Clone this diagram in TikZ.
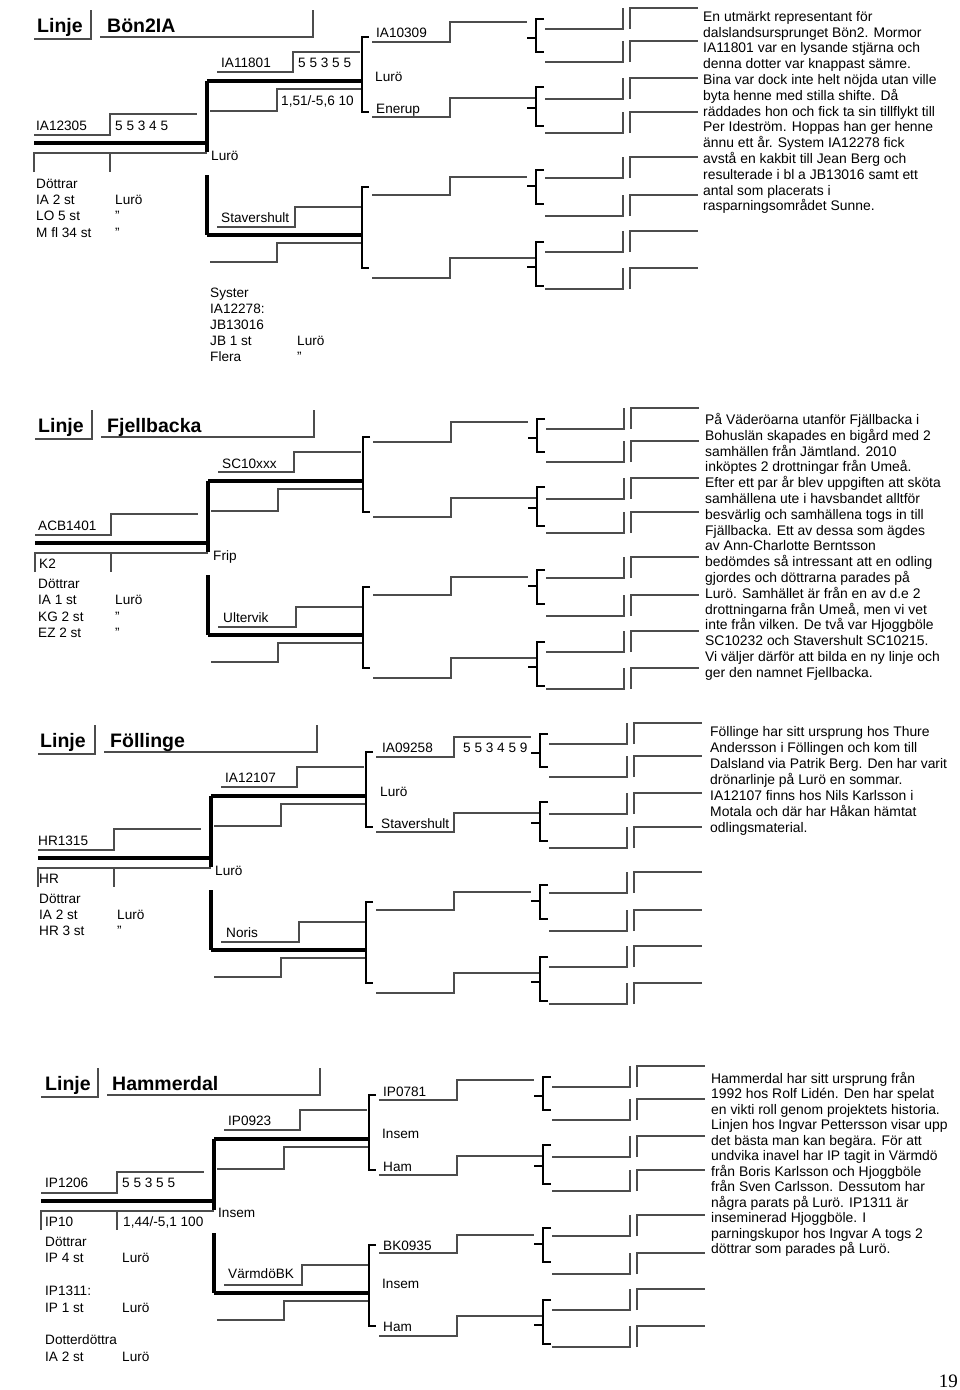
\documentclass[tikz,border=0pt]{standalone}
\usepackage{fontspec}
\setmainfont{Liberation Sans}
\newfontfamily\pagenumfont{Liberation Serif}
\newcommand\pedlines{%
  % title boxes
  \draw[ln] (34,39) -- (91,39) -- (91,10);
  \draw[ln] (100,37) -- (313,37) -- (313,10);
  % level 0
  \draw[ln] (34,135) -- (110,135) -- (110,114) -- (197,114);
  \draw[mainln] (34,143) -- (207,143);
  \draw[ln] (34,172) -- (34,153) -- (207,153);
  \draw[ln] (110,153) -- (110,172);
  % level 1 verticals
  \draw[mainln] (207,81) -- (207,152);
  \draw[mainln] (207,175) -- (207,235);
  % level 1 top
  \draw[ln] (217,72) -- (293,72) -- (293,52) -- (360,52);
  \draw[mainln] (207,81) -- (362,81);
  \draw[ln] (210,111) -- (277,111) -- (277,89) -- (362,89);
  % level 1 bottom
  \draw[ln] (217,227) -- (295,227) -- (295,207) -- (362,207);
  \draw[mainln] (207,235) -- (362,235);
  \draw[ln] (210,262) -- (277,262) -- (277,243) -- (362,243);
  % level 2 brackets
  \draw[brk] (369,37) -- (362,37) -- (362,112) -- (369,112);
  \draw[brk] (369,187) -- (362,187) -- (362,268) -- (369,268);
  % level 2 lines
  \draw[ln] (372,42) -- (450,42) -- (450,22) -- (527,22);
  \draw[ln] (372,117) -- (450,117) -- (450,98) -- (535,98);
  \draw[ln] (372,195) -- (450,195) -- (450,177) -- (527,177);
  \draw[ln] (372,278) -- (450,278) -- (450,258) -- (535,258);
  % level 3 brackets
  \foreach \t/\b/\m in {19/52/38, 87/126/108, 170/204/186, 242/286/267} {
    \draw[brk] (544,\t) -- (536,\t) -- (536,\b) -- (544,\b);
    \draw[brk] (527,\m) -- (536,\m);
  }
  % level 3 and 4 lines
  \foreach \y in {29,62,99,133,178,216,252,289} {
    \draw[ln] (545,\y) -- (623,\y) -- (623,{\y-21});
    \draw[ln] (630,\y) -- (630,{\y-21}) -- (698,{\y-21});
  }
}
\begin{document}
\begin{tikzpicture}[x=1pt,y=-1pt,
  mainln/.style={line width=3.2pt,black},
  ln/.style={line width=2.2pt,black!70},
  brk/.style={line width=2.8pt,black},
  lbl/.style={anchor=base west,inner sep=0pt,font=\fontsize{13.6}{16}\selectfont},
  ttl/.style={anchor=base west,inner sep=0pt,font=\fontsize{19.5}{22}\selectfont\bfseries},
  para/.style={anchor=north west,inner sep=0pt,align=left,font=\fontsize{13.9}{15.8}\selectfont},
]
\useasboundingbox[fill=white] (0,0) rectangle (960,1390);

% ================= Block 1: Bön2IA =================
\begin{scope}[shift={(0,0)}]
  \pedlines
  \node[ttl] (a-linje) at (37,32) {Linje};
  \node[ttl] (a-name) at (107,32) {Bön2IA};
  \node[lbl] (a-q) at (36,130) {IA12305};
  \node[lbl] (a-qv) at (115,130) {5 5 3 4 5};
  \node[lbl] (a-m) at (221,67) {IA11801};
  \node[lbl] (a-mv) at (298,67) {5 5 3 5 5};
  \node[lbl] (a-mv2) at (281,105) {1,51/-5,6 10};
  \node[lbl] (a-l1) at (211,160) {Lurö};
  \node[lbl] (a-f) at (221,222) {Stavershult};
  \node[lbl] (a-mm) at (376,37) {IA10309};
  \node[lbl] (a-mp) at (375,81) {Lurö};
  \node[lbl] (a-mf) at (376,113) {Enerup};
  \node[lbl] (a-d0) at (36,188) {Döttrar};
  \node[lbl] (a-d1) at (36,204) {IA 2 st};
  \node[lbl] (a-d1b) at (115,204) {Lurö};
  \node[lbl] (a-d2) at (36,220) {LO 5 st};
  \node[lbl] (a-d2b) at (115,220) {"};
  \node[lbl] (a-d3) at (36,237) {M fl 34 st};
  \node[lbl] (a-d3b) at (115,237) {"};
  \node[lbl] (a-s0) at (210,297) {Syster};
  \node[lbl] (a-s1) at (210,313) {IA12278:};
  \node[lbl] (a-s2) at (210,329) {JB13016};
  \node[lbl] (a-s3) at (210,345) {JB 1 st};
  \node[lbl] (a-s3b) at (297,345) {Lurö};
  \node[lbl] (a-s4) at (210,361) {Flera};
  \node[lbl] (a-s4b) at (297,361) {"};
\end{scope}
\node[para] (a-text) at (703,11) {En utmärkt representant för\\
dalslandsursprunget Bön2. Mormor\\
IA11801 var en lysande stjärna och\\
denna dotter var knappast sämre.\\
Bina var dock inte helt nöjda utan ville\\
byta henne med stilla shifte. Då\\
räddades hon och fick ta sin tillflykt till\\
Per Ideström. Hoppas han ger henne\\
ännu ett år. System IA12278 fick\\
avstå en kakbit till Jean Berg och\\
resulterade i bl a JB13016 samt ett\\
antal som placerats i\\
rasparningsområdet Sunne.};

% ================= Block 2: Fjellbacka =================
\begin{scope}[shift={(1,400)}]
  \pedlines
  \node[ttl] (b-linje) at (37,32) {Linje};
  \node[ttl] (b-name) at (106,32) {Fjellbacka};
  \node[lbl] (b-q) at (37,130) {ACB1401};
  \node[lbl] (b-k2) at (38,168) {K2};
  \node[lbl] (b-m) at (221,68) {SC10xxx};
  \node[lbl] (b-l1) at (212,160) {Frip};
  \node[lbl] (b-f) at (222,222) {Ultervik};
  \node[lbl] (b-d0) at (37,188) {Döttrar};
  \node[lbl] (b-d1) at (37,204) {IA 1 st};
  \node[lbl] (b-d1b) at (114,204) {Lurö};
  \node[lbl] (b-d2) at (37,221) {KG 2 st};
  \node[lbl] (b-d2b) at (114,221) {"};
  \node[lbl] (b-d3) at (37,237) {EZ 2 st};
  \node[lbl] (b-d3b) at (114,237) {"};
\end{scope}
\node[para] (b-text) at (705,413) {På Väderöarna utanför Fjällbacka i\\
Bohuslän skapades en bigård med 2\\
samhällen från Jämtland. 2010\\
inköptes 2 drottningar från Umeå.\\
Efter ett par år blev uppgiften att sköta\\
samhällena ute i havsbandet alltför\\
besvärlig och samhällena togs in till\\
Fjällbacka. Ett av dessa som ägdes\\
av Ann-Charlotte Berntsson\\
bedömdes så intressant att en odling\\
gjordes och döttrarna parades på\\
Lurö. Samhället är från en av d.e 2\\
drottningarna från Umeå, men vi vet\\
inte från vilken. De två var Hjoggböle\\
SC10232 och Stavershult SC10215.\\
Vi väljer därför att bilda en ny linje och\\
ger den namnet Fjellbacka.};

% ================= Block 3: Föllinge =================
\begin{scope}[shift={(4,715)}]
  \pedlines
  \node[ttl] (c-linje) at (36,32) {Linje};
  \node[ttl] (c-name) at (106,32) {Föllinge};
  \node[lbl] (c-q) at (34,130) {HR1315};
  \node[lbl] (c-hr) at (35,168) {HR};
  \node[lbl] (c-m) at (221,67) {IA12107};
  \node[lbl] (c-l1) at (211,160) {Lurö};
  \node[lbl] (c-f) at (222,222) {Noris};
  \node[lbl] (c-mm) at (378,37) {IA09258};
  \node[lbl] (c-mmv) at (459,37) {5 5 3 4 5 9};
  \node[lbl] (c-mp) at (376,81) {Lurö};
  \node[lbl] (c-mf) at (377,113) {Stavershult};
  \node[lbl] (c-d0) at (35,188) {Döttrar};
  \node[lbl] (c-d1) at (35,204) {IA 2 st};
  \node[lbl] (c-d1b) at (113,204) {Lurö};
  \node[lbl] (c-d2) at (35,220) {HR 3 st};
  \node[lbl] (c-d2b) at (113,220) {"};
\end{scope}
\node[para,font=\fontsize{13.9}{16}\selectfont] (c-text) at (710,726) {Föllinge har sitt ursprung hos Thure\\
Andersson i Föllingen och kom till\\
Dalsland via Patrik Berg. Den har varit\\
drönarlinje på Lurö en sommar.\\
IA12107 finns hos Nils Karlsson i\\
Motala och där har Håkan hämtat\\
odlingsmaterial.};

% ================= Block 4: Hammerdal =================
\begin{scope}[shift={(7,1058)}]
  \pedlines
  \node[ttl] (d-linje) at (38,32) {Linje};
  \node[ttl] (d-name) at (105,32) {Hammerdal};
  \node[lbl] (d-q) at (38,129) {IP1206};
  \node[lbl] (d-qv) at (115,129) {5 5 3 5 5};
  \node[lbl] (d-ip10) at (38,168) {IP10};
  \node[lbl] (d-ipv) at (116,168) {1,44/-5,1 100};
  \node[lbl] (d-m) at (221,67) {IP0923};
  \node[lbl] (d-l1) at (211,159) {Insem};
  \node[lbl] (d-f) at (221,220) {VärmdöBK};
  \node[lbl] (d-mm) at (376,38) {IP0781};
  \node[lbl] (d-mp) at (375,80) {Insem};
  \node[lbl] (d-mf) at (376,113) {Ham};
  \node[lbl] (d-fm) at (376,192) {BK0935};
  \node[lbl] (d-fp) at (375,230) {Insem};
  \node[lbl] (d-ff) at (376,273) {Ham};
  \node[lbl] (d-d0) at (38,188) {Döttrar};
  \node[lbl] (d-d1) at (38,204) {IP 4 st};
  \node[lbl] (d-d1b) at (115,204) {Lurö};
  \node[lbl] (d-d2) at (38,237) {IP1311:};
  \node[lbl] (d-d3) at (38,254) {IP 1 st};
  \node[lbl] (d-d3b) at (115,254) {Lurö};
  \node[lbl] (d-d4) at (38,286) {Dotterdöttra};
  \node[lbl] (d-d5) at (38,303) {IA 2 st};
  \node[lbl] (d-d5b) at (115,303) {Lurö};
\end{scope}
\node[para,font=\fontsize{13.9}{15.5}\selectfont] (d-text) at (711,1072) {Hammerdal har sitt ursprung från\\
1992 hos Rolf Lidén. Den har spelat\\
en vikti roll genom projektets historia.\\
Linjen hos Ingvar Pettersson visar upp\\
det bästa man kan begära. För att\\
undvika inavel har IP tagit in Värmdö\\
från Boris Karlsson och Hjoggböle\\
från Sven Carlsson. Dessutom har\\
några parats på Lurö. IP1311 är\\
inseminerad Hjoggböle. I\\
parningskupor hos Ingvar A togs 2\\
döttrar som parades på Lurö.};

\node[anchor=base east,inner sep=0pt,font=\pagenumfont\fontsize{19}{20}\selectfont] (pagenum) at (958,1387) {19};
\end{tikzpicture}
\end{document}
